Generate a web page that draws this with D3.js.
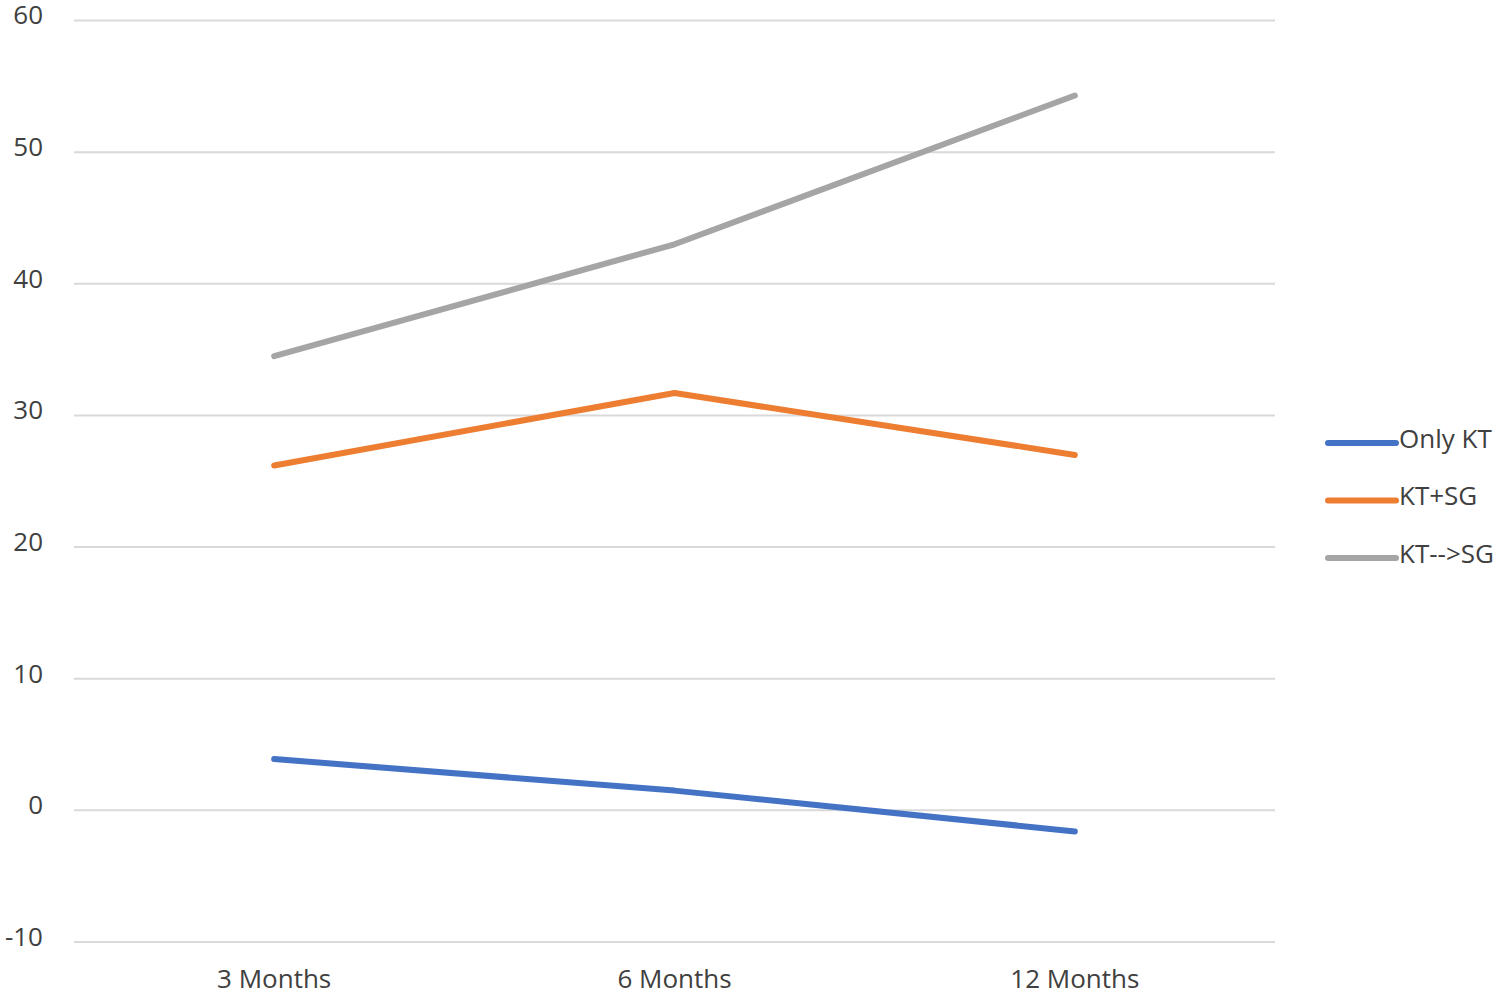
<!DOCTYPE html>
<html><head><meta charset="utf-8">
<script src="https://cdn.jsdelivr.net/npm/d3@7"></script>
<style>body{margin:0;background:#fff}svg{display:block}</style>
</head><body><svg id="c" width="1500" height="994"></svg>
<script>
const categories = ["3 Months", "6 Months", "12 Months"];
const seriesNames = ["Only KT", "KT+SG", "KT-->SG"];
const onlyKT = [3.9, 1.5, -1.6];
const ktPlusSG = [26.2, 31.7, 27.0];
const ktThenSG = [34.5, 43.0, 54.3];
const yTicks = [-10, 0, 10, 20, 30, 40, 50, 60];
const colors = ["#4472C4", "#ED7D31", "#A5A5A5"];

const series = [onlyKT, ktPlusSG, ktThenSG];
const svg = d3.select("#c");
const font = "'Open Sans', 'Noto Sans', sans-serif";
const textColor = "#404040";
const x = d3.scaleBand().domain(categories).range([74, 1275]);
const y = d3.scaleLinear().domain([-10, 60]).range([942, 20.5]);

// gridlines
svg.append("g").selectAll("line").data(yTicks).join("line")
  .attr("x1", 74).attr("x2", 1275)
  .attr("y1", d => y(d)).attr("y2", d => y(d))
  .attr("stroke", "#d9d9d9").attr("stroke-width", 2);

// y labels
svg.append("g").selectAll("text").data(yTicks).join("text")
  .attr("x", 43).attr("y", d => y(d) - 3)
  .attr("text-anchor", "end").attr("dominant-baseline", "middle")
  .attr("font-family", font).attr("font-size", 26).attr("fill", textColor)
  .text(d => d);

// x labels
svg.append("g").selectAll("text").data(categories).join("text")
  .attr("x", d => x(d) + x.bandwidth() / 2).attr("y", 988)
  .attr("text-anchor", "middle")
  .attr("font-family", font).attr("font-size", 26).attr("fill", textColor)
  .text(d => d);

const line = d3.line().x((d, i) => x(categories[i]) + x.bandwidth() / 2).y(d => y(d));
svg.append("g").selectAll("path").data(series).join("path")
  .attr("d", d => line(d)).attr("fill", "none")
  .attr("stroke", (d, i) => colors[i]).attr("stroke-width", 6)
  .attr("stroke-linecap", "round").attr("stroke-linejoin", "round");

// legend
const lg = svg.append("g").selectAll("g").data(seriesNames).join("g")
  .attr("transform", (d, i) => `translate(0, ${443 + i * 57.5})`);
lg.append("line").attr("x1", 1328).attr("x2", 1396).attr("y1", 0).attr("y2", 0)
  .attr("stroke", (d, i) => colors[i]).attr("stroke-width", 6).attr("stroke-linecap", "round");
lg.append("text").attr("x", 1399).attr("y", -2).attr("dominant-baseline", "middle")
  .attr("font-family", font).attr("font-size", 26).attr("fill", textColor)
  .text(d => d);
</script></body></html>
